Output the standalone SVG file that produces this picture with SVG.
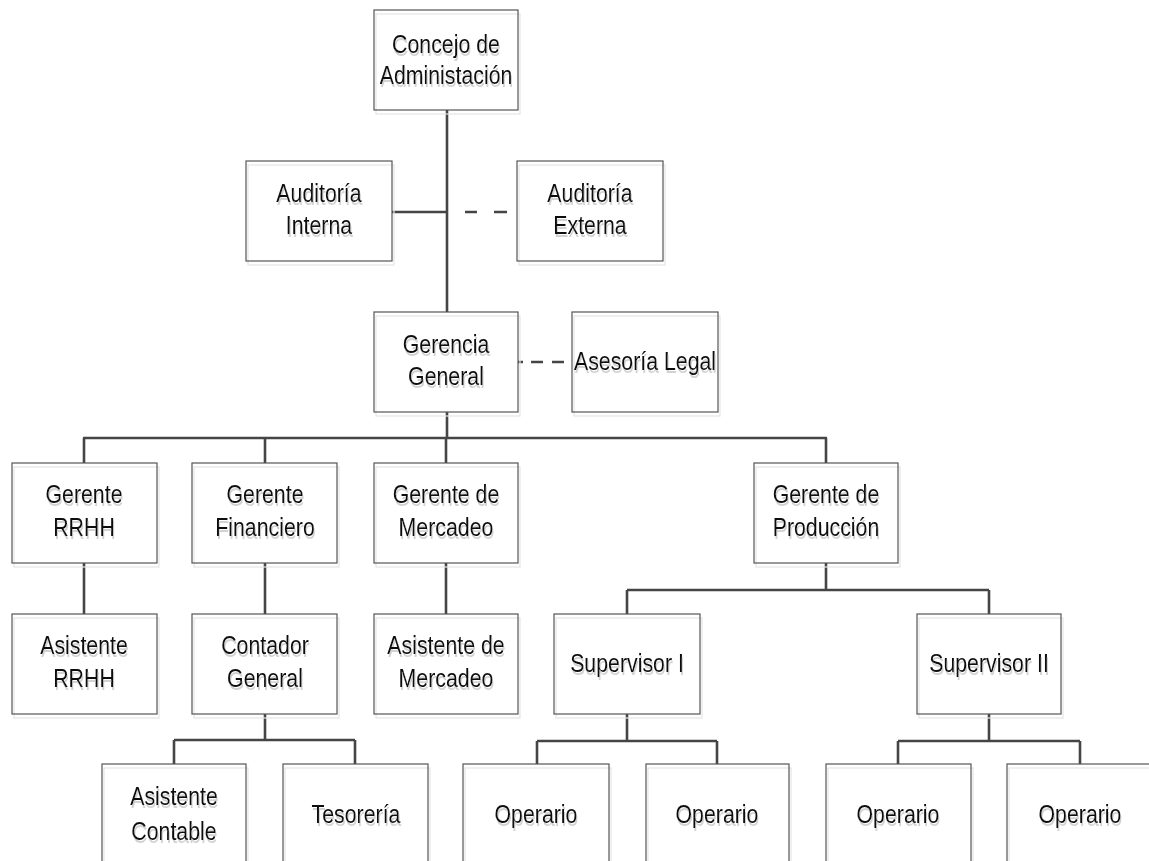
<svg xmlns="http://www.w3.org/2000/svg" width="1149" height="861" viewBox="0 0 1149 861">
<style>
.bx{fill:none;stroke:#555;stroke-width:1.2}
.sh{fill:none;stroke:#e4e4e4;stroke-width:1.2}
.t{font-family:"Liberation Sans",Arial,sans-serif;font-size:26px;text-anchor:middle;fill:#111;filter:url(#tshadow)}
.ln{fill:none;stroke:#454545;stroke-width:2.6}
.dl{fill:none;stroke:#454545;stroke-width:2.6}
</style>
<defs>
<filter id="tshadow" x="-10%" y="-20%" width="130%" height="160%">
<feOffset in="SourceAlpha" dx="1.5" dy="3" result="o"/>
<feFlood flood-color="#d2d2d2"/>
<feComposite in2="o" operator="in" result="s"/>
<feMerge><feMergeNode in="s"/><feMergeNode in="SourceGraphic"/></feMerge>
</filter>
</defs>
<rect width="1149" height="861" fill="#fff"/>
<g id="connectors">
<path class="ln" d="M447,110V312 M392,212H447 M447,412V438 M83,438H827 M84,438V463 M265,438V463 M446,438V463 M826,438V463"/>
<path class="dl" d="M465,212h12 M494,212h13"/>
<path class="dl" d="M518,362h5 M531,362h12 M552,362h12"/>
<path class="ln" d="M84,563V614 M265,563V614 M446,563V614"/>
<path class="ln" d="M265,714V740 M174,740H355 M174,740V764 M355,740V764"/>
<path class="ln" d="M826,563V590 M627,590H989 M627,590V614 M989,590V614"/>
<path class="ln" d="M627,714V741 M537,741H717 M537,741V764 M717,741V764"/>
<path class="ln" d="M989,714V741 M898,741H1080 M898,741V764 M1080,741V764"/>
</g>
<g id="concejo">
<rect class="sh" x="376" y="14" width="144" height="100"/><rect class="bx" x="374" y="10" width="144" height="100"/>
<text class="t" transform="matrix(0.82,0,0,1,446,53)">Concejo de</text>
<text class="t" transform="matrix(0.82,0,0,1,446,84)">Administación</text>
</g>
<g id="auditoria-interna">
<rect class="sh" x="248" y="165" width="146" height="100"/><rect class="bx" x="246" y="161" width="146" height="100"/>
<text class="t" transform="matrix(0.82,0,0,1,319,202)">Auditoría</text>
<text class="t" transform="matrix(0.82,0,0,1,319,234)">Interna</text>
</g>
<g id="auditoria-externa">
<rect class="sh" x="519" y="165" width="146" height="100"/><rect class="bx" x="517" y="161" width="146" height="100"/>
<text class="t" transform="matrix(0.82,0,0,1,590,202)">Auditoría</text>
<text class="t" transform="matrix(0.82,0,0,1,590,234)">Externa</text>
</g>
<g id="gerencia-general">
<rect class="sh" x="376" y="316" width="144" height="100"/><rect class="bx" x="374" y="312" width="144" height="100"/>
<text class="t" transform="matrix(0.82,0,0,1,446,353)">Gerencia</text>
<text class="t" transform="matrix(0.82,0,0,1,446,385)">General</text>
</g>
<g id="asesoria-legal">
<rect class="sh" x="574" y="316" width="146" height="100"/><rect class="bx" x="572" y="312" width="146" height="100"/>
<text class="t" transform="matrix(0.82,0,0,1,645,370)">Asesoría Legal</text>
</g>
<g id="gerente-rrhh">
<rect class="sh" x="14" y="467" width="145" height="100"/><rect class="bx" x="12" y="463" width="145" height="100"/>
<text class="t" transform="matrix(0.82,0,0,1,84,503)">Gerente</text>
<text class="t" transform="matrix(0.82,0,0,1,84,536)">RRHH</text>
</g>
<g id="gerente-financiero">
<rect class="sh" x="194" y="467" width="145" height="100"/><rect class="bx" x="192" y="463" width="145" height="100"/>
<text class="t" transform="matrix(0.82,0,0,1,265,503)">Gerente</text>
<text class="t" transform="matrix(0.82,0,0,1,265,536)">Financiero</text>
</g>
<g id="gerente-mercadeo">
<rect class="sh" x="376" y="467" width="144" height="100"/><rect class="bx" x="374" y="463" width="144" height="100"/>
<text class="t" transform="matrix(0.82,0,0,1,446,503)">Gerente de</text>
<text class="t" transform="matrix(0.82,0,0,1,446,536)">Mercadeo</text>
</g>
<g id="gerente-produccion">
<rect class="sh" x="756" y="467" width="144" height="100"/><rect class="bx" x="754" y="463" width="144" height="100"/>
<text class="t" transform="matrix(0.82,0,0,1,826,503)">Gerente de</text>
<text class="t" transform="matrix(0.82,0,0,1,826,536)">Producción</text>
</g>
<g id="asistente-rrhh">
<rect class="sh" x="14" y="618" width="145" height="100"/><rect class="bx" x="12" y="614" width="145" height="100"/>
<text class="t" transform="matrix(0.82,0,0,1,84,654)">Asistente</text>
<text class="t" transform="matrix(0.82,0,0,1,84,687)">RRHH</text>
</g>
<g id="contador-general">
<rect class="sh" x="194" y="618" width="145" height="100"/><rect class="bx" x="192" y="614" width="145" height="100"/>
<text class="t" transform="matrix(0.82,0,0,1,265,654)">Contador</text>
<text class="t" transform="matrix(0.82,0,0,1,265,687)">General</text>
</g>
<g id="asistente-mercadeo">
<rect class="sh" x="376" y="618" width="144" height="100"/><rect class="bx" x="374" y="614" width="144" height="100"/>
<text class="t" transform="matrix(0.82,0,0,1,446,654)">Asistente de</text>
<text class="t" transform="matrix(0.82,0,0,1,446,687)">Mercadeo</text>
</g>
<g id="supervisor-1">
<rect class="sh" x="556" y="618" width="146" height="100"/><rect class="bx" x="554" y="614" width="146" height="100"/>
<text class="t" transform="matrix(0.82,0,0,1,627,672)">Supervisor I</text>
</g>
<g id="supervisor-2">
<rect class="sh" x="919" y="618" width="144" height="100"/><rect class="bx" x="917" y="614" width="144" height="100"/>
<text class="t" transform="matrix(0.82,0,0,1,989,672)">Supervisor II</text>
</g>
<g id="asistente-contable">
<rect class="sh" x="104" y="768" width="144" height="100"/><rect class="bx" x="102" y="764" width="144" height="100"/>
<text class="t" transform="matrix(0.82,0,0,1,174,805)">Asistente</text>
<text class="t" transform="matrix(0.82,0,0,1,174,840)">Contable</text>
</g>
<g id="tesoreria">
<rect class="sh" x="285" y="768" width="145" height="100"/><rect class="bx" x="283" y="764" width="145" height="100"/>
<text class="t" transform="matrix(0.82,0,0,1,356,823)">Tesorería</text>
</g>
<g id="operario-1">
<rect class="sh" x="465" y="768" width="146" height="100"/><rect class="bx" x="463" y="764" width="146" height="100"/>
<text class="t" transform="matrix(0.82,0,0,1,536,823)">Operario</text>
</g>
<g id="operario-2">
<rect class="sh" x="648" y="768" width="143" height="100"/><rect class="bx" x="646" y="764" width="143" height="100"/>
<text class="t" transform="matrix(0.82,0,0,1,717,823)">Operario</text>
</g>
<g id="operario-3">
<rect class="sh" x="828" y="768" width="145" height="100"/><rect class="bx" x="826" y="764" width="145" height="100"/>
<text class="t" transform="matrix(0.82,0,0,1,898,823)">Operario</text>
</g>
<g id="operario-4">
<rect class="sh" x="1009" y="768" width="145" height="100"/><rect class="bx" x="1007" y="764" width="145" height="100"/>
<text class="t" transform="matrix(0.82,0,0,1,1080,823)">Operario</text>
</g>
</svg>
